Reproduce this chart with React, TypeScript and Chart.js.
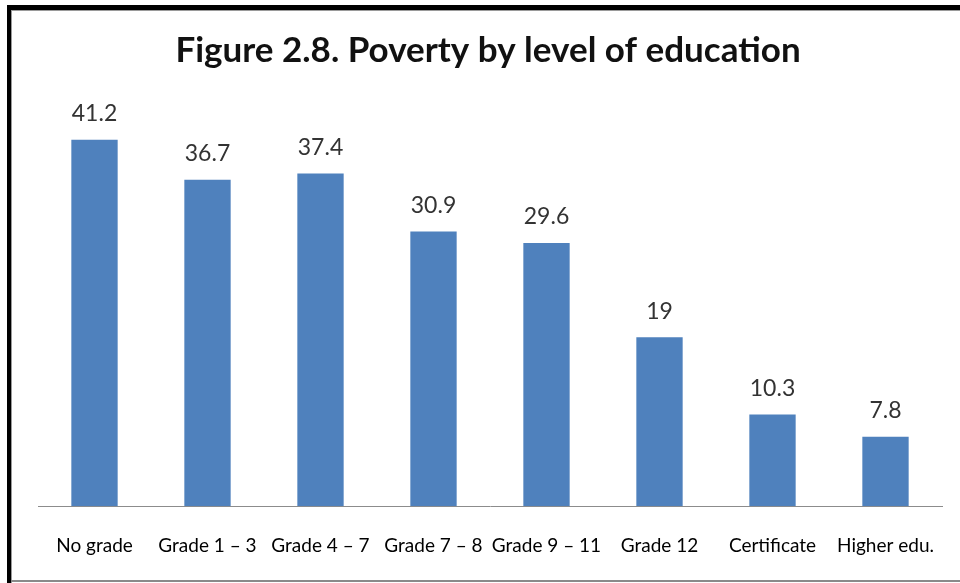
import React, { useEffect, useRef } from "react";
import { Chart, registerables } from "chart.js";

Chart.register(...registerables);

const categories = ["No grade", "Grade 1 – 3", "Grade 4 – 7", "Grade 7 – 8", "Grade 9 – 11", "Grade 12", "Certificate", "Higher edu."];
const povertyValues = [41.2, 36.7, 37.4, 30.9, 29.6, 19, 10.3, 7.8];
const titleText = "Figure 2.8. Poverty by level of education";

const decorPlugin = {
  id: "decor",
  afterDatasetsDraw(chart: any) {
    const ctx = chart.ctx;
    const meta = chart.getDatasetMeta(0);
    ctx.save();
    ctx.fillStyle = "#333333";
    ctx.font = "23px Lato";
    ctx.textAlign = "center";
    ctx.textBaseline = "middle";
    meta.data.forEach((el: any, i: number) => {
      ctx.fillText(String(povertyValues[i]), el.x, el.y - 26);
    });
    ctx.restore();
  },
  afterDraw(chart: any) {
    const ctx = chart.ctx;
    ctx.save();
    ctx.fillStyle = "#111111";
    ctx.font = "bold 35px Lato";
    ctx.textAlign = "center";
    ctx.textBaseline = "middle";
    ctx.fillText(titleText, 488, 51);
    ctx.fillStyle = "#000000";
    ctx.fillRect(7, 5, 960, 5);
    ctx.fillRect(7, 5, 4, 583);
    ctx.fillStyle = "#9a9a9a";
    ctx.fillRect(11, 10, 960, 1);
    ctx.fillRect(11, 10, 1, 583);
    ctx.fillStyle = "#8a8a8a";
    ctx.fillRect(11, 580, 960, 2);
    ctx.restore();
  },
};

export default function App() {
  const ref = useRef<HTMLCanvasElement>(null);
  useEffect(() => {
    document.body.style.margin = "0";
    const chart = new Chart(ref.current!, {
      type: "bar",
      data: {
        labels: categories,
        datasets: [
          {
            data: povertyValues,
            backgroundColor: "#4F81BD",
            barPercentage: 0.41,
            categoryPercentage: 1,
          },
        ],
      },
      options: {
        responsive: false,
        animation: false,
        layout: { padding: { left: 38, right: 18, top: 106, bottom: 6 } },
        plugins: { legend: { display: false }, tooltip: { enabled: false }, title: { display: false } },
        scales: {
          x: {
            grid: { display: false },
            border: { display: true, color: "#8c8c8c", width: 1 },
            ticks: { color: "#000000", font: { family: "Lato", size: 19 }, padding: 20, maxRotation: 0, autoSkip: false },
          },
          y: { display: false, min: 0, max: 45 },
        },
      },
      plugins: [decorPlugin],
    });
    return () => chart.destroy();
  }, []);
  return (
    <div style={{ position: "absolute", left: 0, top: 0, width: 960, height: 583, background: "#fff" }}>
      <canvas ref={ref} width={960} height={583} />
    </div>
  );
}
